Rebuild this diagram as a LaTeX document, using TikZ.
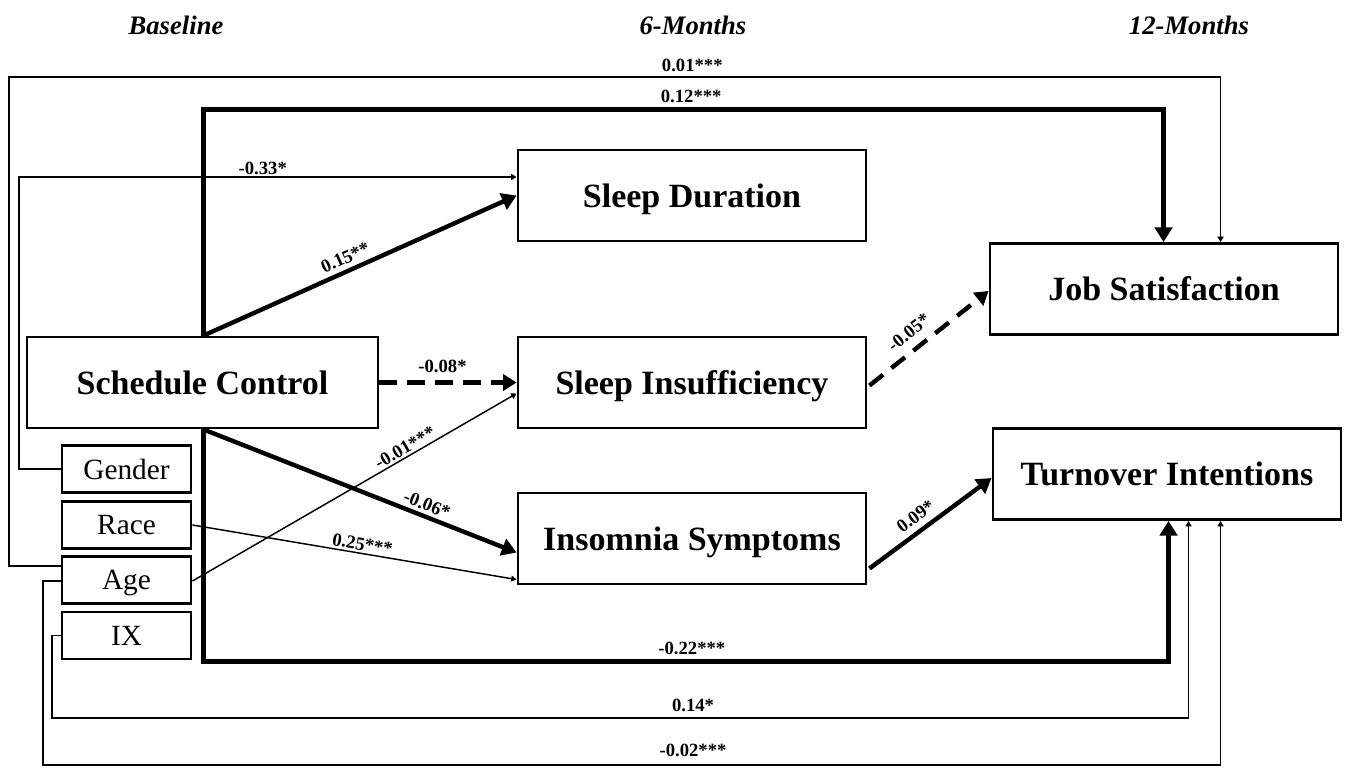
\documentclass[tikz,border=0pt]{standalone}
\usepackage{fontspec}
\setmainfont{Liberation Serif}
\usetikzlibrary{arrows.meta,calc}
\begin{document}
\begin{tikzpicture}[x=0.75pt,y=-0.75pt,
  bigbox/.style={draw,line width=2.2pt,minimum width=261pt,minimum height=68.25pt,inner sep=0pt,text depth=0pt,font=\fontsize{25.5}{30}\selectfont\bfseries},
  smallbox/.style={draw,line width=2.2pt,minimum width=96.75pt,minimum height=35.25pt,inner sep=0pt,text depth=0pt,font=\fontsize{22}{25}\selectfont},
  hdr/.style={font=\fontsize{20}{24}\selectfont\bfseries\itshape},
  lab/.style={font=\fontsize{14}{16}\selectfont\bfseries,inner sep=1.5pt},
  thickline/.style={line width=3.3pt,-{Triangle[length=11pt,width=13pt]}},
  dashline/.style={line width=3.3pt,dash pattern=on 13pt off 8pt,-{Triangle[length=10pt,width=12pt]}},
  thinline/.style={line width=1.1pt,-{Triangle[length=4pt,width=4.5pt]}}
]
\useasboundingbox (0,0) rectangle (1347,768);
% headers
\node[hdr] (h1) at (176,25) {Baseline};
\node[hdr] (h2) at (693,25) {6-Months};
\node[hdr] (h3) at (1189,25) {12-Months};
% boxes
\node[bigbox,minimum width=263.25pt] (SC) at (202.5,382.5) {Schedule Control};
\node[smallbox] (Gender) at (126.5,469) {Gender};
\node[smallbox] (Race) at (126.5,525) {Race};
\node[smallbox] (Age) at (126.5,580) {Age};
\node[smallbox] (IX) at (126.5,635.5) {IX};
\node[bigbox] (SD) at (692,195.5) {Sleep Duration};
\node[bigbox] (SI) at (692,382.5) {Sleep Insufficiency};
\node[bigbox] (IS) at (692,538.5) {Insomnia Symptoms};
\node[bigbox] (JS) at (1164,289) {Job Satisfaction};
\node[bigbox] (TI) at (1167,474) {Turnover Intentions};
% outer connectors
\draw[thinline] ($(Age.west)+(0,-14)$) -| (9,77) -| node[lab,pos=0.282,above=2pt]{0.01***} ($(JS.north west)+(232,0)$);
\draw[thickline] ($(SC.north west)+(178,0)$) -- ++(0,-226) -| node[lab,pos=0.254,above=2pt]{0.12***} ($(JS.north west)+(175,0)$);
\draw[thinline] (Gender.west) -| (19,177) -- node[lab,pos=0.49,above]{-0.33*} ($(SD.west)+(0,-18.5)$);
\draw[thickline] ($(SC.south west)+(178,0)$) -- ++(0,232) -| node[lab,pos=0.253,above=2pt]{-0.22***} ($(TI.south west)+(177,0)$);
\draw[thinline] (IX.west) -| (52,718) -| node[lab,pos=0.282,above=3pt]{0.14*} ($(TI.south west)+(197,0)$);
\draw[thinline] ($(Age.west)+(0,1)$) -| (43,765) -| node[lab,pos=0.276,above=4pt]{-0.02***} ($(TI.south west)+(229,0)$);
% inner paths
\draw[thickline] ($(SC.north west)+(178,0)$) -- node[lab,pos=0.47,sloped,above=2pt]{0.15**} (SD.west);
\draw[dashline] (SC.east) -- node[lab,pos=0.46,above=4pt]{-0.08*} (SI.west);
\draw[thickline] ($(SC.south west)+(178,0)$) -- node[lab,pos=0.7,sloped,above=1pt]{-0.06*} ($(IS.west)+(0,14)$);
\draw[thinline] (Race.east) -- node[lab,pos=0.52,sloped,above]{0.25***} ($(IS.west)+(0,41)$);
\draw[thinline] ($(Age.east)+(0,1)$) -- node[lab,pos=0.67,sloped,above]{-0.01***} ($(SI.west)+(0,11)$);
\draw[dashline] ($(SI.east)+(2,3)$) -- node[lab,pos=0.42,sloped,above=5pt]{-0.05*} ($(JS.west)+(0,2)$);
\draw[thickline] ($(IS.east)+(2,30)$) -- node[lab,pos=0.45,sloped,above=3pt]{0.09*} ($(TI.west)+(0,4)$);
\end{tikzpicture}
\end{document}
